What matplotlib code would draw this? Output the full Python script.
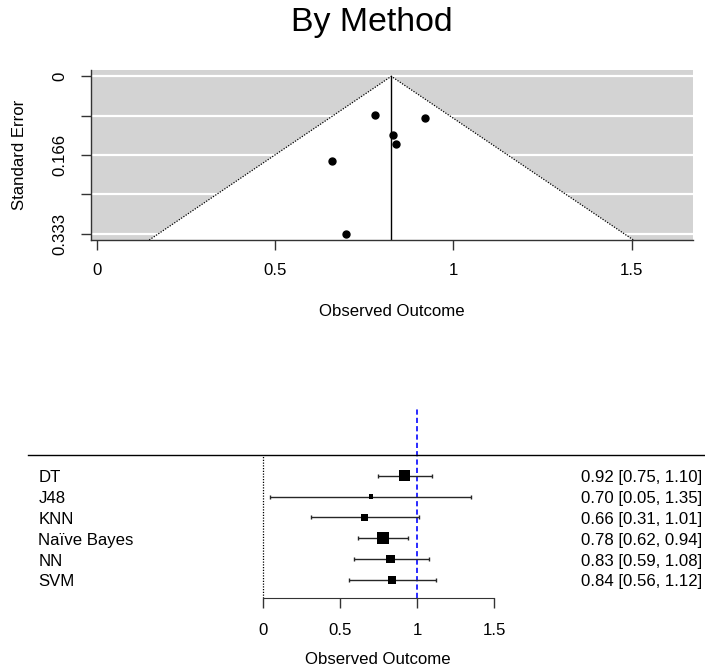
import numpy as np
import matplotlib
matplotlib.use("Agg")
import matplotlib.pyplot as plt

plt.rcParams['font.family'] = ['Liberation Sans', 'DejaVu Sans']

# Per-method pooled outcome with 95% CI
methods = ["DT", "J48", "KNN", "Naïve Bayes", "NN", "SVM"]
estimates = [0.92, 0.70, 0.66, 0.78, 0.83, 0.84]
ci_lower = [0.75, 0.05, 0.31, 0.62, 0.59, 0.56]
ci_upper = [1.10, 1.35, 1.01, 0.94, 1.08, 1.12]
standard_errors = [0.089, 0.333, 0.179, 0.082, 0.125, 0.143]
summary_estimate = 0.826

funnel_xticks = [0, 0.5, 1, 1.5]
funnel_xticklabels = ["0", "0.5", "1", "1.5"]
se_ticklabels = ["0", "", "0.166", "", "0.333"]
forest_xticks = [0, 0.5, 1, 1.5]
forest_xticklabels = ["0", "0.5", "1", "1.5"]

W, H = 705, 670
fig = plt.figure(figsize=(W / 100, H / 100), dpi=100)


def px_rect(left, top, right, bottom):
    return [left / W, 1 - bottom / H, (right - left) / W, (bottom - top) / H]


FS = 12.1
AXCOL = '#333333'

# ---------------- funnel plot ----------------
ax1 = fig.add_axes(px_rect(90.7, 70, 692.7, 240))
se_max = max(standard_errors)
y_top, y_bot = -0.04 * se_max, 1.04 * se_max
ax1.set_xlim(-0.0168, 1.671)
ax1.set_ylim(y_bot, y_top)
ax1.set_facecolor('#D3D3D3')

se_ticks = np.linspace(0, se_max, 5)
for t in se_ticks:
    ax1.axhline(t, color='white', lw=1.6, zorder=1)

z = 1.96
fx = [summary_estimate - z * y_bot, summary_estimate, summary_estimate + z * y_bot]
fy = [y_bot, 0, y_bot]
ax1.fill(fx, fy, color='white', zorder=2, lw=0)
ax1.plot(fx, fy, ls=(0, (1, 1.2)), color='black', lw=0.9, zorder=3)
ax1.plot([summary_estimate, summary_estimate], [0, y_bot], color='black', lw=1, zorder=3)
ax1.plot(estimates, standard_errors, 'o', color='black', ms=5, zorder=4)

for s in ['top', 'right']:
    ax1.spines[s].set_visible(False)
for s in ['left', 'bottom']:
    ax1.spines[s].set_color(AXCOL)
    ax1.spines[s].set_linewidth(1)
    ax1.spines[s].set_zorder(5)

ax1.set_xticks(funnel_xticks)
ax1.set_xticklabels(funnel_xticklabels)
ax1.set_yticks(se_ticks)
ax1.set_yticklabels(se_ticklabels, rotation=90, va='center')
ax1.tick_params(axis='both', direction='out', length=7.5, width=1, color=AXCOL,
                labelsize=FS)
ax1.tick_params(axis='x', pad=9)
ax1.tick_params(axis='y', pad=9)

ax1.set_xlabel("Observed Outcome", fontsize=FS)
ax1.xaxis.label.set_va('center')
ax1.xaxis.set_label_coords(0.5, -(312 - 240) / 170)
ax1.set_ylabel("Standard Error", fontsize=FS)
ax1.yaxis.label.set_va('center')
ax1.yaxis.set_label_coords((20 - 90.7) / 602, 0.5)

fig.text(371.5 / W, 1 - 23 / H, "By Method", ha='center', va='center', fontsize=24.4)

# ---------------- forest plot ----------------
ax2 = fig.add_axes(px_rect(0, 400, 705, 598.3))
unit = 154.3
x0 = 262.7
ax2.set_xlim(-x0 / unit, (W - x0) / unit)
row_px = 20.8
ax2.set_ylim(1 - (598.3 - 579.7) / row_px, 1 + (579.7 - 400) / row_px)
k = len(methods)
rows = np.arange(k, 0, -1)

est = np.array(estimates)
lo = np.array(ci_lower)
hi = np.array(ci_upper)
se = np.array(standard_errors)

ybase = ax2.get_ylim()[0]
ax2.plot([(28.3 - x0) / unit, (W - x0) / unit], [k + 1, k + 1], color='black', lw=1,
         clip_on=False)
ax2.plot([0, 0], [ybase, k + 1], ls=(0, (1, 1.2)), color='black', lw=0.9)
ax2.plot([1, 1], [ybase, 9.25], ls=(0, (3, 1.8)), color='#1010FF', lw=1.25, zorder=1)

ax2.errorbar(est, rows, xerr=[est - lo, hi - est], fmt='none', ecolor='#262626',
             elinewidth=1, capsize=1.7, capthick=1, zorder=2)

w = 1 / se
psize = 0.5 + (w - w.min()) / (w.max() - w.min())
side_pt = 8.3 * psize * 0.72
ax2.scatter(est, rows, marker='s', s=side_pt ** 2, color='black', zorder=3, lw=0)

text_dy = -0.11
for r, name, e, l, h in zip(rows, methods, estimates, ci_lower, ci_upper):
    ax2.text((38.3 - x0) / unit, r + text_dy, name, ha='left', va='center', fontsize=FS)
    ax2.text((702.5 - x0) / unit, r + text_dy, f"{e:.2f} [{l:.2f}, {h:.2f}]", ha='right',
             va='center', fontsize=FS)

for s in ['top', 'right', 'left']:
    ax2.spines[s].set_visible(False)
ax2.spines['bottom'].set_bounds(0, 1.5)
ax2.spines['bottom'].set_color(AXCOL)
ax2.set_yticks([])
ax2.set_xticks(forest_xticks)
ax2.set_xticklabels(forest_xticklabels)
ax2.tick_params(axis='x', direction='out', length=7, width=1, color=AXCOL,
                labelsize=FS, pad=10.5)
ax2.set_facecolor('none')
ax2.set_xlabel("Observed Outcome", fontsize=FS)
ax2.xaxis.label.set_va('center')
ax2.xaxis.set_label_coords(378 / W, -(659 - 598.3) / (598.3 - 400))

fig.savefig("out.png", dpi=100)
